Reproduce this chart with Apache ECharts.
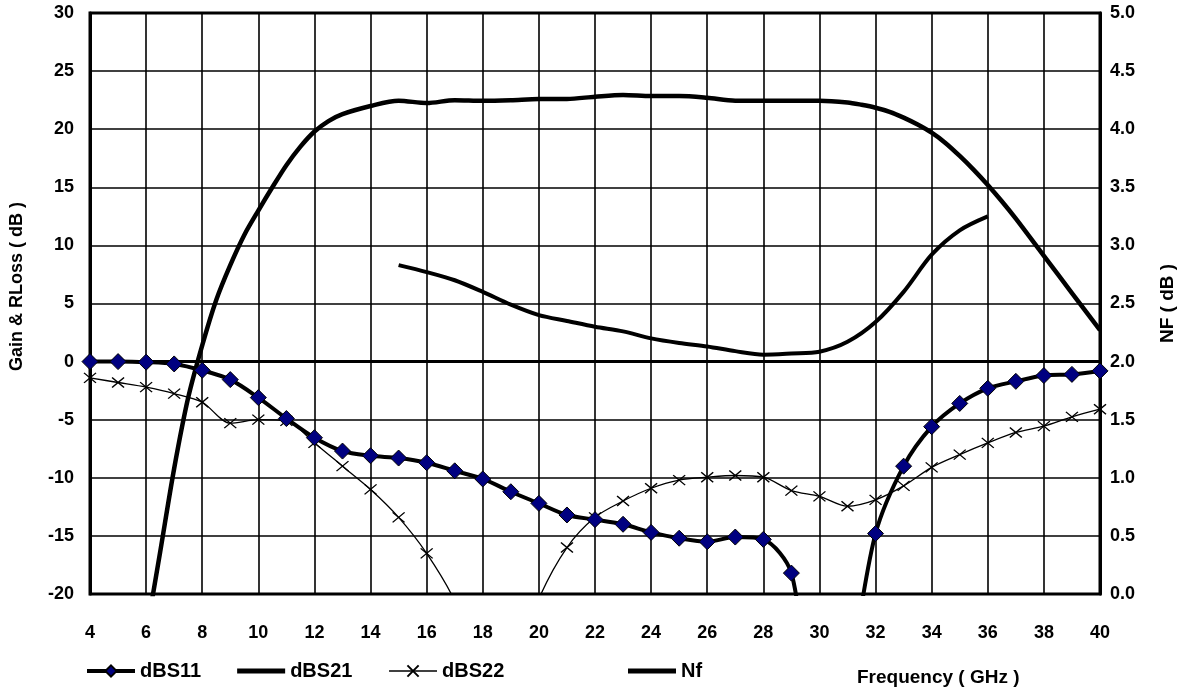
<!DOCTYPE html>
<html>
<head>
<meta charset="utf-8">
<script src="https://cdn.jsdelivr.net/npm/echarts@6/dist/echarts.min.js"></script>
<style>
  html, body { margin: 0; padding: 0; background: #fff; }
  #chart { width: 1185px; height: 695px; }
</style>
</head>
<body>
<div id="chart"></div>
<script>
// S-parameters, one point per GHz
const freqGHz = [4, 5, 6, 7, 8, 9, 10, 11, 12, 13, 14, 15, 16, 17, 18, 19, 20, 21, 22,
  23, 24, 25, 26, 27, 28, 29, 30, 31, 32, 33, 34, 35, 36, 37, 38, 39, 40];
const dBS11 = [0, 0, -0.05, -0.2, -0.75, -1.55, -3.1, -4.9, -6.55, -7.7, -8.1, -8.3, -8.7,
  -9.4, -10.1, -11.2, -12.2, -13.2, -13.6, -14.0, -14.7, -15.2, -15.5, -15.1, -15.3, -18.2,
  -32, -27, -14.8, -9.0, -5.6, -3.6, -2.3, -1.7, -1.2, -1.1, -0.8];
const dBS22 = [-1.4, -1.8, -2.2, -2.75, -3.5, -5.3, -5.0, -5.1, -7.0, -9.0, -11.0, -13.4,
  -16.5, -20.6, -27, -27, -20.4, -16.0, -13.4, -12.0, -10.9, -10.2, -9.95, -9.8, -9.95, -11.1,
  -11.6, -12.45, -11.9, -10.7, -9.1, -8.0, -7.0, -6.1, -5.55, -4.75, -4.1];

// gain, finer steps on the edges
const s21Freq = [6, 6.5, 7, 7.5, 8, 8.5, 9, 9.5, 10, 10.5, 11, 11.5, 12, 12.5, 13, 14, 15, 16,
  17, 18, 19, 20, 21, 22, 23, 24, 25, 26, 27, 28, 29, 30, 31, 31.5, 32, 32.5, 33, 33.5, 34,
  34.5, 35, 35.5, 36, 36.5, 37, 38, 39, 40];
const dBS21 = [-23.5, -16.4, -9.2, -3.1, 1.4, 5.3, 8.3, 10.9, 13.0, 15.0, 16.9, 18.5, 19.8,
  20.7, 21.3, 22.0, 22.45, 22.25, 22.5, 22.45, 22.5, 22.6, 22.6, 22.8, 22.95, 22.85, 22.85,
  22.7, 22.45, 22.45, 22.45, 22.45, 22.3, 22.1, 21.85, 21.5, 21.0, 20.4, 19.7, 18.8, 17.7,
  16.5, 15.2, 13.8, 12.3, 9.1, 5.9, 2.7];

// noise figure (right axis)
const nfFreq = [15, 16, 17, 18, 19, 20, 21, 22, 23, 24, 25, 26, 27, 28, 29, 30, 31, 32, 33, 34, 35, 36];
const nfDb = [2.83, 2.77, 2.70, 2.60, 2.49, 2.40, 2.35, 2.30, 2.26, 2.20, 2.16, 2.13, 2.09,
  2.06, 2.07, 2.085, 2.17, 2.34, 2.60, 2.92, 3.13, 3.25];

const FONT = "'Liberation Sans', Arial, sans-serif";
const BAR_ICON = "path://M0,0H48V5H0Z";
const pairs = (xs, ys) => xs.map((x, i) => [x, ys[i]]);
// points below the axis floor carry no marker
const marked = (xs, ys) => xs.map((x, i) =>
  ys[i] < -20 ? { value: [x, ys[i]], symbol: "none" } : [x, ys[i]]);

const chart = echarts.init(document.getElementById("chart"), null, { renderer: "canvas" });

const tickLabel = { color: "#000", fontFamily: FONT, fontWeight: "bold", fontSize: 18 };
const legendText = { color: "#000", fontFamily: FONT, fontWeight: "bold", fontSize: 20 };

chart.setOption({
  animation: false,
  backgroundColor: "#fff",
  grid: {
    left: 89, right: 83, top: 13, bottom: 101,
    show: true, borderColor: "#000", borderWidth: 3,
  },
  legend: [
    {
      data: [
        { name: "dBS11", lineStyle: { width: 4, color: "#000" } },
        { name: "dBS21", icon: BAR_ICON, itemStyle: { color: "#000" } },
        { name: "dBS22", lineStyle: { width: 1.3, color: "#000" } },
      ],
      left: 80, top: 656,
      itemWidth: 48, itemHeight: 14, itemGap: 36,
      textStyle: legendText,
    },
    {
      data: [{ name: "Nf", icon: BAR_ICON, itemStyle: { color: "#000" } }],
      left: 623, top: 656,
      itemWidth: 48, itemHeight: 14,
      textStyle: legendText,
    },
  ],
  graphic: [
    {
      type: "text", left: 857, top: 668,
      style: { text: "Frequency ( GHz )", font: "bold 19px " + FONT, fill: "#000" },
    },
  ],
  xAxis: {
    type: "value", min: 4, max: 40, interval: 2,
    axisLine: { lineStyle: { color: "#000", width: 3 } },
    axisTick: { show: false },
    axisLabel: { ...tickLabel, margin: 30 },
    splitLine: { lineStyle: { color: "#000", width: 1.6 } },
  },
  yAxis: [
    {
      type: "value", min: -20, max: 30, interval: 5,
      name: "Gain & RLoss ( dB )",
      nameLocation: "middle", nameRotate: 90, nameGap: 64,
      nameTextStyle: { color: "#000", fontFamily: FONT, fontSize: 18, fontWeight: "bold", padding: [0, 0, 0, 34] },
      axisLine: { show: true, lineStyle: { color: "#000", width: 3 } },
      axisTick: { show: false },
      axisLabel: { ...tickLabel, margin: 16, padding: [6, 0, 0, 0] },
      splitLine: { lineStyle: { color: "#000", width: 1.6 } },
    },
    {
      type: "value", min: 0, max: 5, interval: 0.5,
      name: "NF ( dB )",
      nameLocation: "middle", nameRotate: 90, nameGap: 58,
      nameTextStyle: { color: "#000", fontFamily: FONT, fontSize: 19, fontWeight: "bold" },
      axisLine: { show: true, lineStyle: { color: "#000", width: 3 } },
      axisTick: { show: false },
      axisLabel: { ...tickLabel, margin: 10, padding: [6, 0, 0, 0], formatter: (v) => v.toFixed(1) },
      splitLine: { show: false },
    },
  ],
  series: [
    {
      name: "dBS21", type: "line", smooth: 0.3, symbol: "none",
      lineStyle: { color: "#000", width: 4.5 },
      itemStyle: { color: "#000" },
      data: pairs(s21Freq, dBS21),
    },
    {
      name: "Nf", type: "line", yAxisIndex: 1, smooth: 0.3, symbol: "none",
      lineStyle: { color: "#000", width: 4 },
      itemStyle: { color: "#000" },
      data: pairs(nfFreq, nfDb),
    },
    {
      name: "dBS22", type: "line", smooth: 0.3,
      symbol: "path://M0,0L10,10M10,0L0,10", symbolSize: [12, 10],
      lineStyle: { color: "#000", width: 1.3 },
      itemStyle: { color: "#000", borderColor: "#000", borderWidth: 1.3 },
      data: marked(freqGHz, dBS22),
    },
    {
      name: "dBS11", type: "line", smooth: 0.3,
      symbol: "diamond", symbolSize: 16,
      lineStyle: { color: "#000", width: 4 },
      itemStyle: { color: "#000080", borderColor: "#000", borderWidth: 1 },
      data: marked(freqGHz, dBS11),
    },
  ],
});

window.addEventListener("resize", () => chart.resize());
</script>
</body>
</html>
